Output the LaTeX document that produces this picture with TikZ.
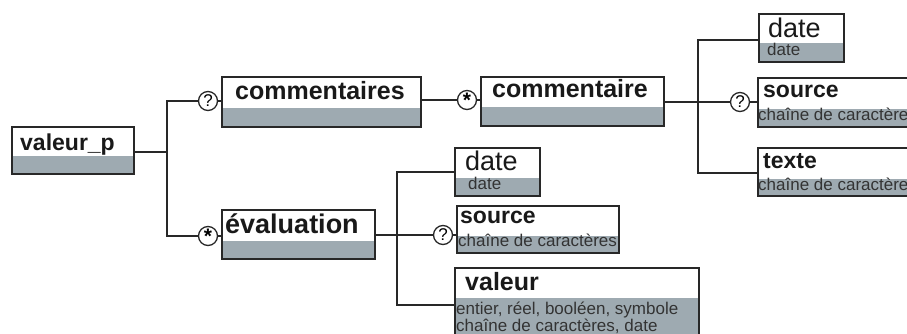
\documentclass[tikz,border=0pt]{standalone}
\usepackage{fontspec}
\setmainfont{Liberation Sans}
\usetikzlibrary{positioning}
\definecolor{xsdgray}{RGB}{158,170,177}
\definecolor{xsdline}{RGB}{40,40,40}
\newcommand{\manystar}{\raisebox{-0.36em}{\fontsize{21}{21}\selectfont\bfseries *}}

\begin{document}
\begin{tikzpicture}[x=1pt, y=-1pt,
    elem/.style={rectangle, draw=xsdline, line width=1.7pt, fill=white, anchor=north west, inner sep=0pt},
    band/.style={path picture={\fill[xsdgray] (path picture bounding box.south west) rectangle ([yshift=#1pt]path picture bounding box.south east);}},
    title/.style={anchor=base west, inner sep=0pt, font=\fontsize{25}{25}\selectfont\bfseries, text=black!90},
    small title/.style={title, font=\fontsize{23}{23}\selectfont\bfseries},
    plain/.style={anchor=base west, inner sep=0pt, font=\fontsize{27}{27}\selectfont, text=black!90},
    type/.style={anchor=base west, inner sep=0pt, font=\fontsize{17}{17}\selectfont, text=black!80, align=left},
    occ/.style={circle, draw=xsdline, line width=1.3pt, fill=white, minimum size=19pt, inner sep=0pt, font=\fontsize{17}{17}\selectfont},
    link/.style={draw=xsdline, line width=1.7pt}
]
    \useasboundingbox (0,0) rectangle (907,334);
    \clip (0,0) rectangle (907,334);

    % Root
    \node[elem, band=18, minimum width=122pt, minimum height=47pt] (valp) at (11,126) {};
    \node[small title] (valp-t) at (20,150) {valeur\_p};

    % commentaires branch
    \node[occ] (opt1) at (208,101) {?};
    \node[elem, band=19, minimum width=199pt, minimum height=50pt] (cmts) at (221,76) {};
    \node[title] (cmts-t) at (235,100) {commentaires};
    \node[occ] (rep1) at (467,100) {\manystar};
    \node[elem, band=19, minimum width=183pt, minimum height=49pt] (cmt) at (480,76) {};
    \node[title] (cmt-t) at (492,98) {commentaire};

    % children of commentaire
    \node[elem, band=19, minimum width=85pt, minimum height=48pt] (date1) at (758,13) {};
    \node[plain] (date1-t) at (768,38) {date};
    \node[type] (date1-s) at (767,56) {date};
    \node[occ] (opt2) at (740,102) {?};
    \node[elem, band=18, minimum width=180pt, minimum height=49pt] (src1) at (757,77) {};
    \node[small title] (src1-t) at (763,98) {source};
    \node[type] (src1-s) at (758,121) {chaîne de caractères};
    \node[elem, band=17, minimum width=180pt, minimum height=48pt] (txt) at (757,147) {};
    \node[small title] (txt-t) at (763,168) {texte};
    \node[type] (txt-s) at (758,190) {chaîne de caractères};

    % évaluation branch
    \node[occ] (rep2) at (208,236) {\manystar};
    \node[elem, band=18, minimum width=153pt, minimum height=49pt] (eval) at (221,209) {};
    \node[title, font=\fontsize{27}{27}\selectfont\bfseries] (eval-t) at (225,233) {évaluation};

    % children of évaluation
    \node[elem, band=18, minimum width=85pt, minimum height=48pt] (date2) at (454,147) {};
    \node[plain] (date2-t) at (465,170) {date};
    \node[type] (date2-s) at (468,189) {date};
    \node[occ] (opt3) at (443,235) {?};
    \node[elem, band=17, minimum width=162pt, minimum height=47pt] (src2) at (456,205) {};
    \node[small title] (src2-t) at (460,223) {source};
    \node[type] (src2-s) at (458,246) {chaîne de caractères};
    \node[elem, band=50, minimum width=244pt, minimum height=80pt] (val) at (454,267) {};
    \node[title] (val-t) at (465,290) {valeur};
    \node[type, anchor=north west] (val-s) at (456,302) {entier, réel, booléen, symbole\\chaîne de caractères, date};

    % Connectors
    \coordinate (j1) at (167,152);
    \draw[link] (j1 -| valp.east) -- (j1);
    \draw[link] (opt1) -| (j1) |- (rep2);
    \draw[link] (opt1) -- (opt1 -| cmts.west);
    \draw[link] (rep2) -- (rep2 -| eval.west);
    \draw[link] (rep1 -| cmts.east) -- (rep1);
    \draw[link] (rep1) -- (rep1 -| cmt.west);

    \coordinate (j2) at (698,102);
    \coordinate (b1) at (758,40);
    \coordinate (b2) at (757,173);
    \draw[link] (j2 -| cmt.east) -- (j2) -- (opt2);
    \draw[link] (opt2) -- (opt2 -| src1.west);
    \draw[link] (b1) -| (j2) |- (b2);

    \coordinate (j3) at (397,235);
    \coordinate (b3) at (454,172);
    \coordinate (b4) at (454,305);
    \draw[link] (j3 -| eval.east) -- (j3) -- (opt3);
    \draw[link] (opt3) -- (opt3 -| src2.west);
    \draw[link] (b3) -| (j3) |- (b4);
\end{tikzpicture}
\end{document}
